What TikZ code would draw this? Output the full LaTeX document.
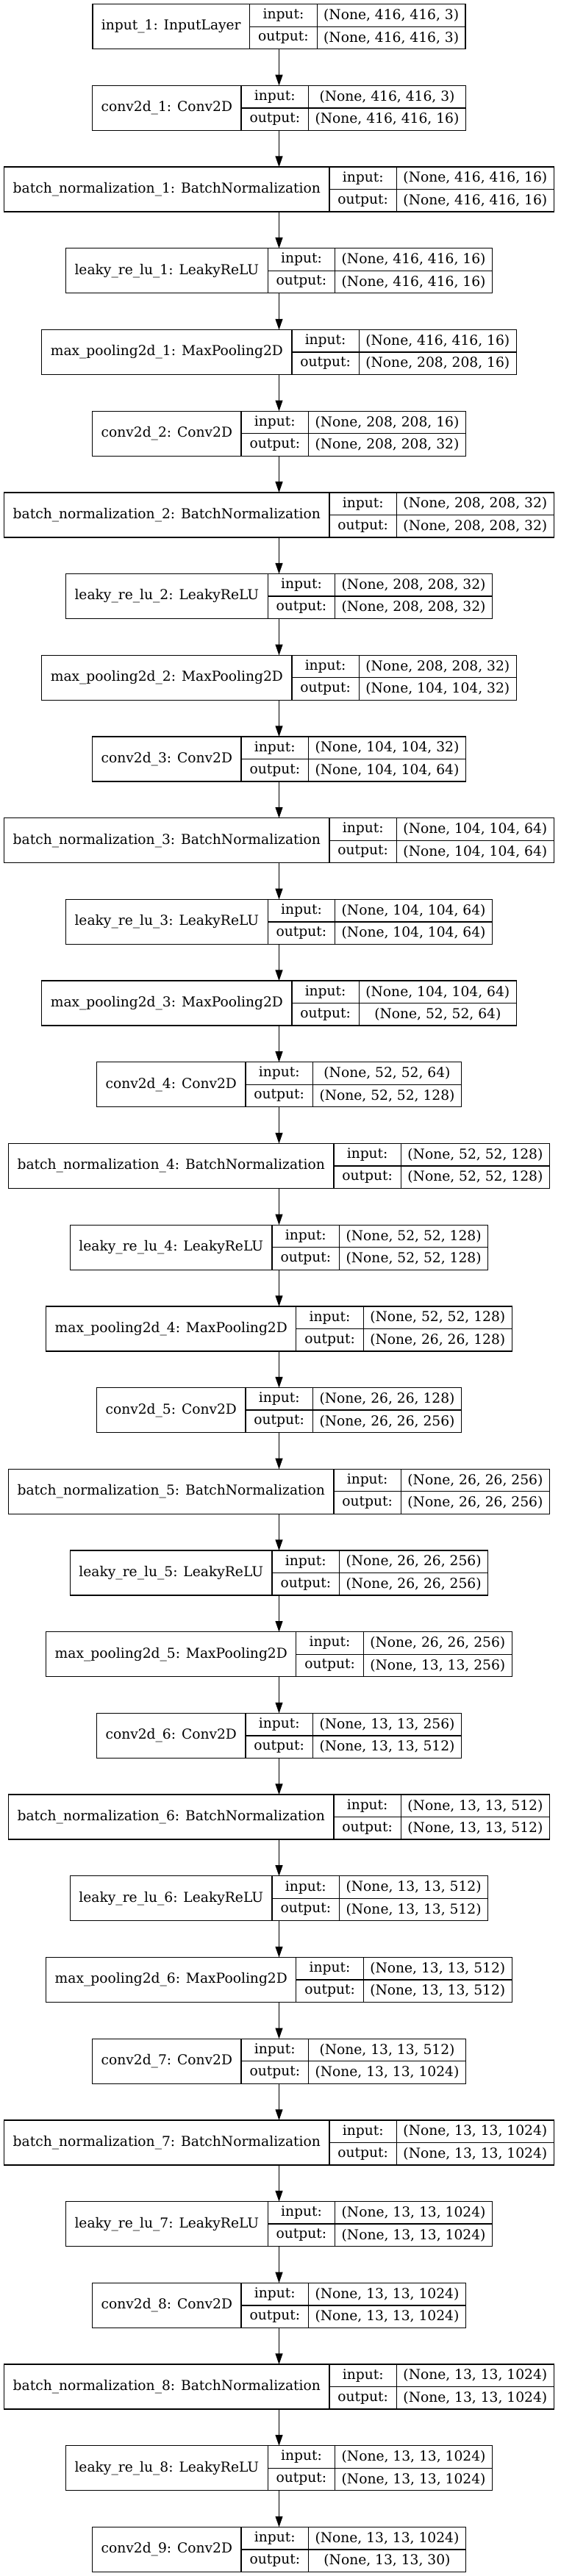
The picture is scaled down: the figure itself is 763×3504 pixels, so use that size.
\documentclass[tikz,border=0pt]{standalone}
\usepackage{fontspec}
\setmainfont{DejaVu Serif}
\usetikzlibrary{arrows.meta}

\font\lyrfont="DejaVu Serif" at 14pt
\newlength\lyrnamew
\newlength\lyrvalw
\newlength\lyrtmpw
% one layer record: node name, row, layer text, input shape, output shape
\newcommand\lyr[5]{%
  \settowidth\lyrnamew{\lyrfont #3}%
  \settowidth\lyrvalw{\lyrfont #4}%
  \settowidth\lyrtmpw{\lyrfont #5}%
  \ifdim\lyrtmpw>\lyrvalw \lyrvalw=\lyrtmpw \fi
  \pgfmathsetmacro\ntop{5.7+#2*110.7}%
  \pgfmathsetmacro\nw{\lyrnamew/0.75+24}%
  \pgfmathsetmacro\vw{\lyrvalw/0.75+18}%
  \pgfmathsetmacro\lx{379.5-(\nw+91.5+\vw)/2}%
  \node[lbox, minimum width={(\nw+91.5+\vw)*0.75pt}] (#1) at (379.5,\ntop+30.5) {};
  \draw[lline] (\lx+\nw,\ntop) -- ++(0,61);
  \draw[lline] (\lx+\nw+91.5,\ntop) -- ++(0,61);
  \draw[lline] (\lx+\nw,\ntop+30.5) -- (#1.east);
  \node[ltext] (#1n) at (\lx+\nw/2,\ntop+30.5) {#3};
  \node[ltext] (#1i) at (\lx+\nw+45.75,\ntop+15.25) {input:};
  \node[ltext] (#1o) at (\lx+\nw+45.75,\ntop+45.75) {output:};
  \node[ltext] (#1a) at (\lx+\nw+91.5+\vw/2,\ntop+15.25) {#4};
  \node[ltext] (#1b) at (\lx+\nw+91.5+\vw/2,\ntop+45.75) {#5};
}

\begin{document}
\begin{tikzpicture}[%
        x=0.75pt, y=-0.75pt,
        lbox/.style={rectangle, draw, line width=1pt, inner sep=0pt, outer sep=0pt, minimum height=45.75pt},
        lline/.style={line width=1pt},
        ltext/.style={inner sep=0pt, font=\lyrfont},
        larrow/.style={line width=0.8pt, -{Triangle[length=11pt, width=7.5pt]}}
    ]
    \useasboundingbox (0,0) rectangle (763,3504);

    % --- layers ---
    \lyr{in1}{0}{input\_1: InputLayer}{(None, 416, 416, 3)}{(None, 416, 416, 3)}
    \lyr{cv1}{1}{conv2d\_1: Conv2D}{(None, 416, 416, 3)}{(None, 416, 416, 16)}
    \lyr{bn1}{2}{batch\_normalization\_1: BatchNormalization}{(None, 416, 416, 16)}{(None, 416, 416, 16)}
    \lyr{lr1}{3}{leaky\_re\_lu\_1: LeakyReLU}{(None, 416, 416, 16)}{(None, 416, 416, 16)}
    \lyr{mp1}{4}{max\_pooling2d\_1: MaxPooling2D}{(None, 416, 416, 16)}{(None, 208, 208, 16)}
    \lyr{cv2}{5}{conv2d\_2: Conv2D}{(None, 208, 208, 16)}{(None, 208, 208, 32)}
    \lyr{bn2}{6}{batch\_normalization\_2: BatchNormalization}{(None, 208, 208, 32)}{(None, 208, 208, 32)}
    \lyr{lr2}{7}{leaky\_re\_lu\_2: LeakyReLU}{(None, 208, 208, 32)}{(None, 208, 208, 32)}
    \lyr{mp2}{8}{max\_pooling2d\_2: MaxPooling2D}{(None, 208, 208, 32)}{(None, 104, 104, 32)}
    \lyr{cv3}{9}{conv2d\_3: Conv2D}{(None, 104, 104, 32)}{(None, 104, 104, 64)}
    \lyr{bn3}{10}{batch\_normalization\_3: BatchNormalization}{(None, 104, 104, 64)}{(None, 104, 104, 64)}
    \lyr{lr3}{11}{leaky\_re\_lu\_3: LeakyReLU}{(None, 104, 104, 64)}{(None, 104, 104, 64)}
    \lyr{mp3}{12}{max\_pooling2d\_3: MaxPooling2D}{(None, 104, 104, 64)}{(None, 52, 52, 64)}
    \lyr{cv4}{13}{conv2d\_4: Conv2D}{(None, 52, 52, 64)}{(None, 52, 52, 128)}
    \lyr{bn4}{14}{batch\_normalization\_4: BatchNormalization}{(None, 52, 52, 128)}{(None, 52, 52, 128)}
    \lyr{lr4}{15}{leaky\_re\_lu\_4: LeakyReLU}{(None, 52, 52, 128)}{(None, 52, 52, 128)}
    \lyr{mp4}{16}{max\_pooling2d\_4: MaxPooling2D}{(None, 52, 52, 128)}{(None, 26, 26, 128)}
    \lyr{cv5}{17}{conv2d\_5: Conv2D}{(None, 26, 26, 128)}{(None, 26, 26, 256)}
    \lyr{bn5}{18}{batch\_normalization\_5: BatchNormalization}{(None, 26, 26, 256)}{(None, 26, 26, 256)}
    \lyr{lr5}{19}{leaky\_re\_lu\_5: LeakyReLU}{(None, 26, 26, 256)}{(None, 26, 26, 256)}
    \lyr{mp5}{20}{max\_pooling2d\_5: MaxPooling2D}{(None, 26, 26, 256)}{(None, 13, 13, 256)}
    \lyr{cv6}{21}{conv2d\_6: Conv2D}{(None, 13, 13, 256)}{(None, 13, 13, 512)}
    \lyr{bn6}{22}{batch\_normalization\_6: BatchNormalization}{(None, 13, 13, 512)}{(None, 13, 13, 512)}
    \lyr{lr6}{23}{leaky\_re\_lu\_6: LeakyReLU}{(None, 13, 13, 512)}{(None, 13, 13, 512)}
    \lyr{mp6}{24}{max\_pooling2d\_6: MaxPooling2D}{(None, 13, 13, 512)}{(None, 13, 13, 512)}
    \lyr{cv7}{25}{conv2d\_7: Conv2D}{(None, 13, 13, 512)}{(None, 13, 13, 1024)}
    \lyr{bn7}{26}{batch\_normalization\_7: BatchNormalization}{(None, 13, 13, 1024)}{(None, 13, 13, 1024)}
    \lyr{lr7}{27}{leaky\_re\_lu\_7: LeakyReLU}{(None, 13, 13, 1024)}{(None, 13, 13, 1024)}
    \lyr{cv8}{28}{conv2d\_8: Conv2D}{(None, 13, 13, 1024)}{(None, 13, 13, 1024)}
    \lyr{bn8}{29}{batch\_normalization\_8: BatchNormalization}{(None, 13, 13, 1024)}{(None, 13, 13, 1024)}
    \lyr{lr8}{30}{leaky\_re\_lu\_8: LeakyReLU}{(None, 13, 13, 1024)}{(None, 13, 13, 1024)}
    \lyr{cv9}{31}{conv2d\_9: Conv2D}{(None, 13, 13, 1024)}{(None, 13, 13, 30)}

    % --- arrows ---
    \draw[larrow] (in1) -- (cv1);
    \draw[larrow] (cv1) -- (bn1);
    \draw[larrow] (bn1) -- (lr1);
    \draw[larrow] (lr1) -- (mp1);
    \draw[larrow] (mp1) -- (cv2);
    \draw[larrow] (cv2) -- (bn2);
    \draw[larrow] (bn2) -- (lr2);
    \draw[larrow] (lr2) -- (mp2);
    \draw[larrow] (mp2) -- (cv3);
    \draw[larrow] (cv3) -- (bn3);
    \draw[larrow] (bn3) -- (lr3);
    \draw[larrow] (lr3) -- (mp3);
    \draw[larrow] (mp3) -- (cv4);
    \draw[larrow] (cv4) -- (bn4);
    \draw[larrow] (bn4) -- (lr4);
    \draw[larrow] (lr4) -- (mp4);
    \draw[larrow] (mp4) -- (cv5);
    \draw[larrow] (cv5) -- (bn5);
    \draw[larrow] (bn5) -- (lr5);
    \draw[larrow] (lr5) -- (mp5);
    \draw[larrow] (mp5) -- (cv6);
    \draw[larrow] (cv6) -- (bn6);
    \draw[larrow] (bn6) -- (lr6);
    \draw[larrow] (lr6) -- (mp6);
    \draw[larrow] (mp6) -- (cv7);
    \draw[larrow] (cv7) -- (bn7);
    \draw[larrow] (bn7) -- (lr7);
    \draw[larrow] (lr7) -- (cv8);
    \draw[larrow] (cv8) -- (bn8);
    \draw[larrow] (bn8) -- (lr8);
    \draw[larrow] (lr8) -- (cv9);
\end{tikzpicture}
\end{document}
